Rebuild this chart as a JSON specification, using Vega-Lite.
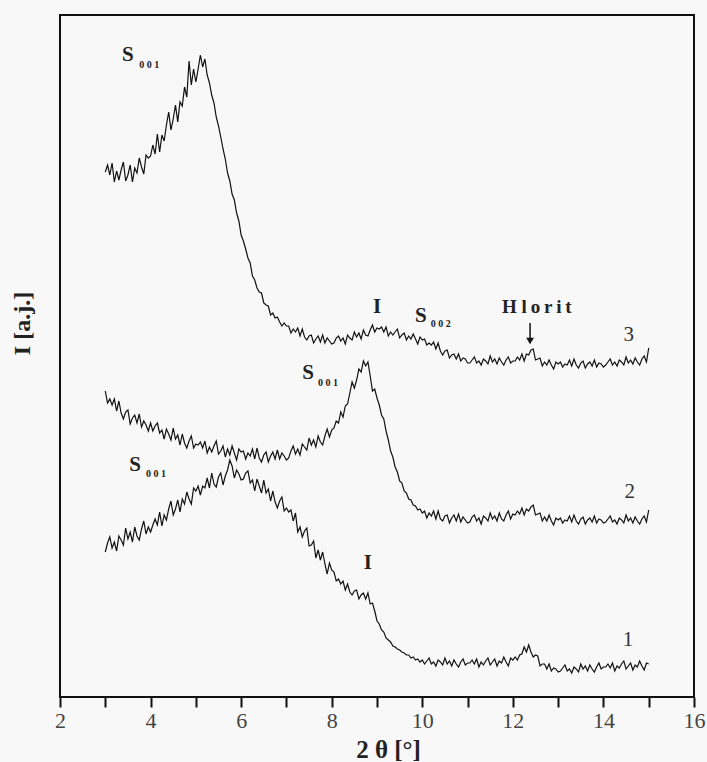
{
"$schema": "https://vega.github.io/schema/vega-lite/v6.json",
"width": 634, "height": 682,
"autosize": {"type": "none"},
"padding": {"left": 60, "top": 15, "right": 13, "bottom": 65},
"background": "#f8f8f8",
"config": {"view": {"stroke": "#111", "strokeWidth": 2}, "font": "Liberation Serif",
 "axis": {"labelFont": "Liberation Serif", "titleFont": "Liberation Serif"}},
"datasets": {
"xrd": [
{"x":3.00,"a":525,"b":306,"c":145},{"x":3.05,"a":532,"b":294,"c":154},{"x":3.10,"a":522,"b":298,"c":160},{"x":3.15,"a":534,"b":292,"c":149},{"x":3.20,"a":515,"b":298,"c":155},
{"x":3.25,"a":526,"b":286,"c":146},{"x":3.30,"a":517,"b":296,"c":161},{"x":3.35,"a":527,"b":284,"c":157},{"x":3.40,"a":535,"b":278,"c":152},{"x":3.45,"a":516,"b":285,"c":169},
{"x":3.50,"a":522,"b":287,"c":158},{"x":3.55,"a":532,"b":273,"c":165},{"x":3.60,"a":515,"b":279,"c":155},{"x":3.65,"a":529,"b":282,"c":170},{"x":3.70,"a":524,"b":274,"c":161},
{"x":3.75,"a":539,"b":283,"c":157},{"x":3.80,"a":530,"b":270,"c":168},{"x":3.85,"a":523,"b":276,"c":176},{"x":3.90,"a":542,"b":272,"c":163},{"x":3.95,"a":539,"b":266,"c":170},
{"x":4.00,"a":541,"b":274,"c":165},{"x":4.05,"a":552,"b":266,"c":172},{"x":4.10,"a":543,"b":271,"c":178},{"x":4.15,"a":563,"b":274,"c":172},{"x":4.20,"a":545,"b":264,"c":185},
{"x":4.25,"a":562,"b":267,"c":171},{"x":4.30,"a":556,"b":258,"c":182},{"x":4.35,"a":572,"b":268,"c":177},{"x":4.40,"a":585,"b":263,"c":188},{"x":4.45,"a":567,"b":257,"c":196},
{"x":4.50,"a":578,"b":269,"c":182},{"x":4.55,"a":592,"b":258,"c":188},{"x":4.60,"a":575,"b":262,"c":197},{"x":4.65,"a":595,"b":252,"c":185},{"x":4.70,"a":591,"b":263,"c":198},
{"x":4.75,"a":610,"b":254,"c":193},{"x":4.80,"a":600,"b":249,"c":205},{"x":4.85,"a":636,"b":256,"c":198},{"x":4.90,"a":612,"b":261,"c":193},{"x":4.95,"a":628,"b":249,"c":209},
{"x":5.00,"a":615,"b":253,"c":206},{"x":5.05,"a":628,"b":252,"c":211},{"x":5.10,"a":642,"b":255,"c":202},{"x":5.15,"a":630,"b":249,"c":211},{"x":5.20,"a":638,"b":256,"c":209},
{"x":5.25,"a":622,"b":244,"c":219},{"x":5.30,"a":614,"b":250,"c":209},{"x":5.35,"a":602,"b":245,"c":224},{"x":5.40,"a":594,"b":251,"c":213},{"x":5.45,"a":580,"b":256,"c":210},
{"x":5.50,"a":571,"b":243,"c":220},{"x":5.55,"a":560,"b":246,"c":224},{"x":5.60,"a":548,"b":251,"c":212},{"x":5.65,"a":538,"b":240,"c":221},{"x":5.70,"a":524,"b":248,"c":227},
{"x":5.75,"a":516,"b":242,"c":237},{"x":5.80,"a":503,"b":251,"c":231},{"x":5.85,"a":497,"b":244,"c":219},{"x":5.90,"a":484,"b":237,"c":227},{"x":5.95,"a":476,"b":248,"c":223},
{"x":6.00,"a":462,"b":245,"c":217},{"x":6.05,"a":456,"b":246,"c":218},{"x":6.10,"a":448,"b":238,"c":224},{"x":6.15,"a":439,"b":244,"c":226},{"x":6.20,"a":434,"b":241,"c":214},
{"x":6.25,"a":421,"b":248,"c":217},{"x":6.30,"a":417,"b":238,"c":206},{"x":6.35,"a":409,"b":249,"c":218},{"x":6.40,"a":405,"b":239,"c":211},{"x":6.45,"a":404,"b":235,"c":204},
{"x":6.50,"a":394,"b":242,"c":217},{"x":6.55,"a":392,"b":245,"c":204},{"x":6.60,"a":391,"b":235,"c":208},{"x":6.65,"a":382,"b":241,"c":196},{"x":6.70,"a":384,"b":245,"c":206},
{"x":6.75,"a":379,"b":238,"c":195},{"x":6.80,"a":380,"b":247,"c":189},{"x":6.85,"a":375,"b":238,"c":196},{"x":6.90,"a":371,"b":244,"c":200},{"x":6.95,"a":374,"b":241,"c":186},
{"x":7.00,"a":371,"b":237,"c":189},{"x":7.05,"a":371,"b":239,"c":185},{"x":7.10,"a":364,"b":246,"c":187},{"x":7.15,"a":368,"b":251,"c":176},{"x":7.20,"a":365,"b":243,"c":184},
{"x":7.25,"a":369,"b":248,"c":165},{"x":7.30,"a":361,"b":242,"c":170},{"x":7.35,"a":368,"b":253,"c":160},{"x":7.40,"a":360,"b":250,"c":166},{"x":7.45,"a":357,"b":247,"c":169},
{"x":7.50,"a":361,"b":259,"c":151},{"x":7.55,"a":362,"b":252,"c":152},{"x":7.60,"a":354,"b":257,"c":156},{"x":7.65,"a":358,"b":250,"c":139},{"x":7.70,"a":361,"b":261,"c":147},
{"x":7.75,"a":355,"b":255,"c":137},{"x":7.80,"a":362,"b":252,"c":145},{"x":7.85,"a":354,"b":261,"c":133},{"x":7.90,"a":359,"b":268,"c":123},{"x":7.95,"a":356,"b":260,"c":134},
{"x":8.00,"a":353,"b":267,"c":127},{"x":8.05,"a":354,"b":269,"c":125},{"x":8.10,"a":359,"b":276,"c":116},{"x":8.15,"a":361,"b":274,"c":118},{"x":8.20,"a":356,"b":285,"c":113},
{"x":8.25,"a":359,"b":280,"c":116},{"x":8.30,"a":353,"b":291,"c":107},{"x":8.35,"a":362,"b":293,"c":113},{"x":8.40,"a":359,"b":304,"c":105},{"x":8.45,"a":357,"b":315,"c":102},
{"x":8.50,"a":365,"b":309,"c":106},{"x":8.55,"a":360,"b":317,"c":107},{"x":8.60,"a":364,"b":328,"c":98},{"x":8.65,"a":358,"b":325,"c":102},{"x":8.70,"a":367,"b":336,"c":104},
{"x":8.75,"a":362,"b":331,"c":98},{"x":8.80,"a":361,"b":335,"c":104},{"x":8.85,"a":367,"b":321,"c":93},{"x":8.90,"a":372,"b":306,"c":94},{"x":8.95,"a":365,"b":308,"c":86},
{"x":9.00,"a":369,"b":299,"c":76},{"x":9.05,"a":368,"b":292,"c":73},{"x":9.10,"a":370,"b":282,"c":67},{"x":9.15,"a":365,"b":278,"c":65},{"x":9.20,"a":370,"b":266,"c":59},
{"x":9.25,"a":361,"b":257,"c":57},{"x":9.30,"a":365,"b":246,"c":55},{"x":9.35,"a":362,"b":240,"c":51},{"x":9.40,"a":365,"b":230,"c":50},{"x":9.45,"a":368,"b":225,"c":48},
{"x":9.50,"a":359,"b":216,"c":47},{"x":9.55,"a":362,"b":214,"c":45},{"x":9.60,"a":364,"b":206,"c":44},{"x":9.65,"a":357,"b":204,"c":42},{"x":9.70,"a":361,"b":198,"c":42},
{"x":9.75,"a":358,"b":197,"c":39},{"x":9.80,"a":363,"b":192,"c":40},{"x":9.85,"a":358,"b":191,"c":37},{"x":9.90,"a":353,"b":187,"c":38},{"x":9.95,"a":360,"b":188,"c":35},
{"x":10.00,"a":357,"b":184,"c":37},{"x":10.05,"a":358,"b":186,"c":33},{"x":10.10,"a":352,"b":179,"c":36},{"x":10.15,"a":354,"b":184,"c":39},{"x":10.20,"a":352,"b":181,"c":33},
{"x":10.25,"a":355,"b":186,"c":35},{"x":10.30,"a":348,"b":178,"c":31},{"x":10.35,"a":354,"b":186,"c":37},{"x":10.40,"a":346,"b":178,"c":35},{"x":10.45,"a":342,"b":176,"c":32},
{"x":10.50,"a":346,"b":181,"c":39},{"x":10.55,"a":347,"b":182,"c":33},{"x":10.60,"a":339,"b":174,"c":36},{"x":10.65,"a":342,"b":179,"c":31},{"x":10.70,"a":343,"b":182,"c":37},
{"x":10.75,"a":338,"b":176,"c":33},{"x":10.80,"a":343,"b":183,"c":30},{"x":10.85,"a":336,"b":175,"c":35},{"x":10.90,"a":339,"b":180,"c":38},{"x":10.95,"a":338,"b":177,"c":32},
{"x":11.00,"a":334,"b":174,"c":34},{"x":11.05,"a":334,"b":175,"c":34},{"x":11.10,"a":337,"b":180,"c":37},{"x":11.15,"a":340,"b":182,"c":33},{"x":11.20,"a":334,"b":176,"c":38},
{"x":11.25,"a":336,"b":179,"c":30},{"x":11.30,"a":332,"b":173,"c":35},{"x":11.35,"a":338,"b":181,"c":32},{"x":11.40,"a":336,"b":179,"c":36},{"x":11.45,"a":333,"b":176,"c":39},
{"x":11.50,"a":341,"b":184,"c":32},{"x":11.55,"a":335,"b":178,"c":35},{"x":11.60,"a":338,"b":181,"c":38},{"x":11.65,"a":333,"b":176,"c":31},{"x":11.70,"a":339,"b":184,"c":36},
{"x":11.75,"a":335,"b":178,"c":34},{"x":11.80,"a":332,"b":176,"c":40},{"x":11.85,"a":337,"b":182,"c":35},{"x":11.90,"a":340,"b":186,"c":31},{"x":11.95,"a":334,"b":178,"c":39},
{"x":12.00,"a":336,"b":183,"c":37},{"x":12.05,"a":336,"b":182,"c":40},{"x":12.10,"a":340,"b":186,"c":37},{"x":12.15,"a":337,"b":183,"c":42},{"x":12.20,"a":343,"b":189,"c":43},
{"x":12.25,"a":336,"b":182,"c":50},{"x":12.30,"a":343,"b":188,"c":45},{"x":12.35,"a":342,"b":186,"c":52},{"x":12.40,"a":347,"b":190,"c":45},{"x":12.45,"a":348,"b":192,"c":40},
{"x":12.50,"a":337,"b":182,"c":42},{"x":12.55,"a":338,"b":183,"c":41},{"x":12.60,"a":339,"b":184,"c":31},{"x":12.65,"a":331,"b":176,"c":33},{"x":12.70,"a":335,"b":180,"c":33},
{"x":12.75,"a":332,"b":176,"c":28},{"x":12.80,"a":337,"b":182,"c":33},{"x":12.85,"a":332,"b":176,"c":26},{"x":12.90,"a":328,"b":172,"c":29},{"x":12.95,"a":335,"b":179,"c":28},
{"x":13.00,"a":333,"b":177,"c":25},{"x":13.05,"a":335,"b":179,"c":26},{"x":13.10,"a":330,"b":174,"c":29},{"x":13.15,"a":333,"b":177,"c":32},{"x":13.20,"a":332,"b":176,"c":26},
{"x":13.25,"a":337,"b":181,"c":28},{"x":13.30,"a":331,"b":175,"c":24},{"x":13.35,"a":338,"b":182,"c":30},{"x":13.40,"a":332,"b":176,"c":28},{"x":13.45,"a":329,"b":173,"c":25},
{"x":13.50,"a":334,"b":178,"c":33},{"x":13.55,"a":336,"b":180,"c":28},{"x":13.60,"a":329,"b":173,"c":31},{"x":13.65,"a":333,"b":177,"c":26},{"x":13.70,"a":335,"b":179,"c":32},
{"x":13.75,"a":331,"b":175,"c":28},{"x":13.80,"a":337,"b":181,"c":25},{"x":13.85,"a":330,"b":174,"c":30},{"x":13.90,"a":334,"b":178,"c":34},{"x":13.95,"a":333,"b":177,"c":28},
{"x":14.00,"a":330,"b":174,"c":30},{"x":14.05,"a":332,"b":175,"c":30},{"x":14.10,"a":335,"b":178,"c":33},{"x":14.15,"a":338,"b":181,"c":29},{"x":14.20,"a":332,"b":175,"c":34},
{"x":14.25,"a":335,"b":177,"c":26},{"x":14.30,"a":331,"b":173,"c":31},{"x":14.35,"a":337,"b":179,"c":29},{"x":14.40,"a":335,"b":177,"c":33},{"x":14.45,"a":332,"b":174,"c":36},
{"x":14.50,"a":340,"b":182,"c":28},{"x":14.55,"a":334,"b":176,"c":31},{"x":14.60,"a":337,"b":179,"c":34},{"x":14.65,"a":333,"b":174,"c":27},{"x":14.70,"a":339,"b":180,"c":32},
{"x":14.75,"a":335,"b":176,"c":30},{"x":14.80,"a":332,"b":173,"c":36},{"x":14.85,"a":338,"b":178,"c":31},{"x":14.90,"a":341,"b":181,"c":27},{"x":14.95,"a":335,"b":175,"c":34},
{"x":15.00,"a":349,"b":187,"c":33}
],
"ann": [
{"x":3.50,"y":642,"t":"S","k":"S"},{"x":3.97,"y":632,"t":"0 0 1","k":"sub"},
{"x":9.00,"y":390,"t":"I","k":"S"},
{"x":9.97,"y":381,"t":"S","k":"S"},{"x":10.41,"y":373,"t":"0 0 2","k":"sub"},
{"x":12.53,"y":390,"t":"H l\u2009o\u2009r\u2009i\u2009t","k":"hl"},
{"x":14.56,"y":362,"t":"3","k":"num"},
{"x":7.48,"y":324,"t":"S","k":"S"},{"x":7.92,"y":314,"t":"0 0 1","k":"sub"},
{"x":14.58,"y":205,"t":"2","k":"num"},
{"x":3.66,"y":232,"t":"S","k":"S"},{"x":4.12,"y":223,"t":"0 0 1","k":"sub"},
{"x":8.80,"y":134,"t":"I","k":"S"},
{"x":14.54,"y":57,"t":"1","k":"num"}
],
"arrow": [{"x":12.38,"y":374,"y2":356}]
},
"layer": [
{
"data": {"name": "xrd"},
"transform": [{"fold": ["a", "b", "c"], "as": ["s", "y"]}],
"mark": {"type": "line", "color": "#111", "strokeWidth": 1.2},
"encoding": {
"x": {"field": "x", "type": "quantitative",
 "scale": {"domain": [2, 16], "nice": false, "zero": false},
 "axis": {"values": [2,3,4,5,6,7,8,9,10,11,12,13,14,15,16],
  "labelExpr": "datum.value % 2 === 0 ? datum.label : ''",
  "domain": false, "grid": false, "tickSize": 10, "tickWidth": 2, "tickColor": "#111",
  "labelFont": "Liberation Serif", "labelFontSize": 22, "labelColor": "#444", "labelPadding": 3,
  "labelOverlap": false, "labelFlush": false,
  "title": "2 θ  [°]", "titleFont": "Liberation Serif", "titleFontSize": 25, "titleFontWeight": "bold",
  "titleColor": "#222", "titleX": 328, "titleY": 52, "titleBaseline": "middle", "titleAlign": "center",
  "encode": {"ticks": {"update": {"y2": {"signal": "datum.value % 2 === 0 ? 10 : 6"}}}}}},
"y": {"field": "y", "type": "quantitative",
 "scale": {"domain": [0, 682], "nice": false},
 "axis": {"title": "I  [a.j.]", "ticks": false, "labels": false, "domain": false, "grid": false,
  "titleFont": "Liberation Serif", "titleFontSize": 24, "titleFontWeight": "bold", "titleColor": "#222",
  "titleX": -38, "titleY": 308, "titleBaseline": "middle", "titleAlign": "center", "titleAngle": -90}},
"detail": {"field": "s"}
}
},
{
"data": {"name": "ann"},
"transform": [{"filter": "datum.k === 'S'"}],
"mark": {"type": "text", "font": "Liberation Serif", "fontWeight": "bold", "fontSize": 21, "color": "#222", "baseline": "middle", "align": "center"},
"encoding": {"x": {"field": "x", "type": "quantitative"}, "y": {"field": "y", "type": "quantitative"}, "text": {"field": "t"}}
},
{
"data": {"name": "ann"},
"transform": [{"filter": "datum.k === 'sub'"}],
"mark": {"type": "text", "font": "Liberation Serif", "fontWeight": "bold", "fontSize": 10, "color": "#222", "baseline": "middle", "align": "center"},
"encoding": {"x": {"field": "x", "type": "quantitative"}, "y": {"field": "y", "type": "quantitative"}, "text": {"field": "t"}}
},
{
"data": {"name": "ann"},
"transform": [{"filter": "datum.k === 'hl'"}],
"mark": {"type": "text", "font": "Liberation Serif", "fontWeight": "bold", "fontSize": 19, "color": "#222", "baseline": "middle", "align": "center"},
"encoding": {"x": {"field": "x", "type": "quantitative"}, "y": {"field": "y", "type": "quantitative"}, "text": {"field": "t"}}
},
{
"data": {"name": "ann"},
"transform": [{"filter": "datum.k === 'num'"}],
"mark": {"type": "text", "font": "Liberation Serif", "fontSize": 21, "color": "#333", "baseline": "middle", "align": "center"},
"encoding": {"x": {"field": "x", "type": "quantitative"}, "y": {"field": "y", "type": "quantitative"}, "text": {"field": "t"}}
},
{
"data": {"name": "arrow"},
"mark": {"type": "rule", "color": "#111", "strokeWidth": 1.5},
"encoding": {"x": {"field": "x", "type": "quantitative"}, "y": {"field": "y", "type": "quantitative"}, "y2": {"field": "y2"}}
},
{
"data": {"name": "arrow"},
"mark": {"type": "point", "shape": "triangle-down", "filled": true, "color": "#111", "size": 60, "opacity": 1},
"encoding": {"x": {"field": "x", "type": "quantitative"}, "y": {"field": "y2", "type": "quantitative"}}
}
]
}
